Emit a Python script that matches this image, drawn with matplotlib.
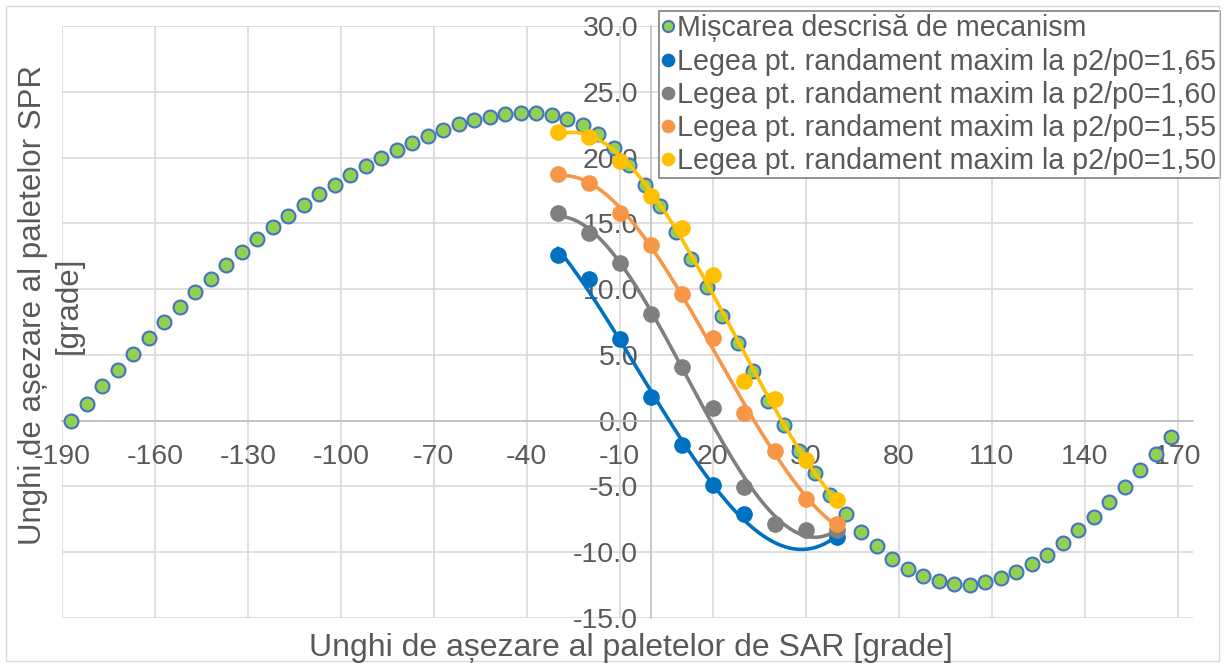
import numpy as np
from matplotlib import pyplot as plt
from matplotlib.patches import Rectangle

plt.rcParams['font.family'] = ['Liberation Sans', 'DejaVu Sans']
plt.rcParams['axes.unicode_minus'] = False

# miscarea descrisa de mecanism
x_mec = [-187, -182, -177, -172, -167, -162, -157, -152, -147, -142, -137, -132,
         -127, -122, -117, -112, -107, -102, -97, -92, -87, -82, -77, -72,
         -67, -62, -57, -52, -47, -42, -37, -32, -27, -22, -17, -12,
         -7, -2, 3, 8, 13, 18, 23, 28, 33, 38, 43, 48,
         53, 58, 63, 68, 73, 78, 83, 88, 93, 98, 103, 108,
         113, 118, 123, 128, 133, 138, 143, 148, 153, 158, 163, 168]
y_mec = [0.0, 1.3, 2.6, 3.85, 5.1, 6.3, 7.47, 8.62, 9.74, 10.79, 11.86, 12.83,
         13.8, 14.69, 15.58, 16.4, 17.19, 17.93, 18.64, 19.33, 19.97, 20.56, 21.14, 21.63,
         22.09, 22.52, 22.82, 23.08, 23.31, 23.39, 23.36, 23.21, 22.9, 22.44, 21.75, 20.73,
         19.41, 17.93, 16.3, 14.36, 12.32, 10.15, 7.98, 5.87, 3.75, 1.48, -0.31, -2.3,
         -4.0, -5.66, -7.06, -8.45, -9.5, -10.5, -11.27, -11.83, -12.22, -12.45, -12.47, -12.29,
         -11.99, -11.53, -10.89, -10.18, -9.31, -8.34, -7.32, -6.2, -5.02, -3.75, -2.52, -1.25]

# legile pentru randament maxim
x_165 = [-30, -20, -10, 0, 10, 20, 30, 60]
y_165 = [12.57, 10.79, 6.2, 1.78, -1.84, -4.9, -7.06, -8.85]

x_160 = [-30, -20, -10, 0, 10, 20, 30, 40, 50, 60]
y_160 = [15.76, 14.23, 12.01, 8.11, 4.1, 0.97, -5.02, -7.88, -8.29, -8.34]

x_155 = [-30, -20, -10, 0, 10, 20, 30, 40, 50, 60]
y_155 = [18.74, 18.06, 15.76, 13.34, 9.64, 6.25, 0.59, -2.3, -5.99, -7.83]

x_150 = [-30, -20, -10, 0, 10, 20, 30, 40, 50, 60]
y_150 = [21.94, 21.55, 19.72, 17.04, 14.61, 11.07, 3.01, 1.61, -2.98, -6.04]

labels = ['Mișcarea descrisă de mecanism',
          'Legea pt. randament maxim la p2/p0=1,65',
          'Legea pt. randament maxim la p2/p0=1,60',
          'Legea pt. randament maxim la p2/p0=1,55',
          'Legea pt. randament maxim la p2/p0=1,50']
culori = ['#0070c0', '#7f7f7f', '#f79646', '#ffc000']

fig = plt.figure(figsize=(12.25, 6.67), dpi=100)
fig.patches.append(Rectangle((0.005, 0.009), 0.99, 0.982, transform=fig.transFigure,
                             fill=False, edgecolor='#d9d9d9', linewidth=1))
ax = fig.add_axes([0.0506, 0.0735, 0.9233, 0.8876])

ax.plot(x_mec, y_mec, 'o', ms=10, mfc='#92d050', mec='#4472c4', mew=1.5,
        label=labels[0], zorder=3)

serii = [(x_165, y_165), (x_160, y_160), (x_155, y_155), (x_150, y_150)]
for i, (xs, ys) in enumerate(serii):
    xs = np.array(xs)
    ys = np.array(ys)
    # linie de tendinta polinomiala
    p = np.polyfit(xs, ys, 3)
    xt = np.linspace(xs.min(), xs.max(), 200)
    ax.plot(xt, np.polyval(p, xt), color=culori[i], lw=2.6, zorder=4 + i)
    ax.plot(xs, ys, 'o', ms=11, color=culori[i], mec=culori[i], label=labels[i + 1],
            zorder=4 + i)

ax.set_xlim(-190, 175)
ax.set_ylim(-15, 30)
ax.set_xticks(np.arange(-190, 171, 30))
ax.set_yticks(np.arange(-15, 31, 5))
ax.yaxis.set_major_formatter(plt.FormatStrFormatter('%.1f'))
ax.grid(True, color='#d9d9d9', lw=1.2, zorder=0)
ax.set_axisbelow(True)

for s in ['top', 'right']:
    ax.spines[s].set_visible(False)
ax.spines['left'].set_position(('data', 0))
ax.spines['bottom'].set_position(('data', 0))
ax.spines['left'].set_color('#bfbfbf')
ax.spines['bottom'].set_color('#bfbfbf')
ax.spines['left'].set_linewidth(1.2)
ax.spines['bottom'].set_linewidth(1.2)
ax.spines['left'].set_zorder(1)
ax.spines['bottom'].set_zorder(1)

ax.tick_params(axis='x', length=0, pad=17, labelsize=20.5, labelcolor='#595959')
ax.tick_params(axis='y', length=0, pad=9, labelsize=20.5, labelcolor='#595959')
for t in ax.get_xticklabels() + ax.get_yticklabels():
    t.set_zorder(2)

fig.text(631 / 1225, 1 - 648 / 667, 'Unghi de așezare al paletelor de SAR [grade]',
         ha='center', va='center', fontsize=23, color='#595959')
fig.text(51 / 1225, 1 - 305 / 667, 'Unghi de așezare al paletelor SPR\n[grade]',
         ha='center', va='center', rotation=90, multialignment='center',
         fontsize=22.5, color='#595959', linespacing=1.25)

leg = ax.legend(loc='upper left', bbox_to_anchor=(659 / 1225, 1 - 11 / 667),
                bbox_transform=fig.transFigure, fontsize=20.6, frameon=True,
                fancybox=False, edgecolor='#7f7f7f', framealpha=1,
                borderpad=0.12, labelspacing=0.18, handlelength=0.4,
                handletextpad=0.12, markerscale=0.8, borderaxespad=0)
leg.get_frame().set_linewidth(1.2)
for t in leg.get_texts():
    t.set_color('#595959')

plt.savefig('out.png', dpi=100)
